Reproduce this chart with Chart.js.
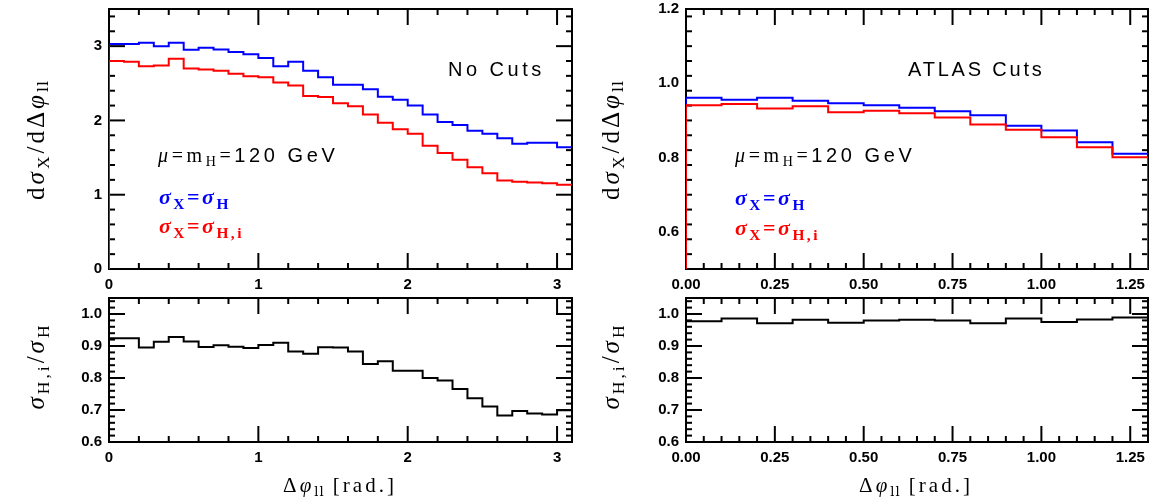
<!DOCTYPE html>
<html><head><meta charset="utf-8">
<script src="https://cdn.jsdelivr.net/npm/chart.js@4/dist/chart.umd.min.js"></script>
<style>
html,body{margin:0;padding:0;background:#fff;}
body{width:1150px;height:504px;position:relative;overflow:hidden;}
canvas{position:absolute;}
.lbl{position:absolute;white-space:nowrap;line-height:1;color:#000;}
.sans{font-family:"Liberation Sans",Arial,sans-serif;}
.serif{font-family:"Liberation Serif","DejaVu Serif",serif;}
.lbl sub{font-size:70%;vertical-align:-0.32em;line-height:0;}
.lbl sub.ll{font-family:"DejaVu Serif",serif;font-size:62%;letter-spacing:1px;}
.rot{transform:translate(-50%,-50%) rotate(-90deg);transform-origin:center;}
.ctr{transform:translateX(-50%);}
</style></head><body>
<canvas id="tl" width="590" height="292" style="left:0;top:0"></canvas>
<canvas id="bl" width="590" height="212" style="left:0;top:292px"></canvas>
<canvas id="tr" width="560" height="292" style="left:590px;top:0"></canvas>
<canvas id="br" width="560" height="212" style="left:590px;top:292px"></canvas>

<!-- axis titles -->
<div class="lbl serif rot" style="left:35px;top:140px;font-size:25px;letter-spacing:3px">d<i>σ</i><sub>X</sub>/dΔ<i>φ</i><sub class="ll">ll</sub></div>
<div class="lbl serif rot" style="left:35px;top:366px;font-size:25px;letter-spacing:3px"><i>σ</i><sub>H,i</sub>/<i>σ</i><sub>H</sub></div>
<div class="lbl serif rot" style="left:610px;top:140px;font-size:25px;letter-spacing:3px">d<i>σ</i><sub>X</sub>/dΔ<i>φ</i><sub class="ll">ll</sub></div>
<div class="lbl serif rot" style="left:610px;top:366px;font-size:25px;letter-spacing:3px"><i>σ</i><sub>H,i</sub>/<i>σ</i><sub>H</sub></div>
<div class="lbl serif ctr" style="left:340px;top:475px;font-size:21px;letter-spacing:3px">Δ<i>φ</i><sub class="ll">ll</sub> [rad.]</div>
<div class="lbl serif ctr" style="left:916px;top:475px;font-size:21px;letter-spacing:3px">Δ<i>φ</i><sub class="ll">ll</sub> [rad.]</div>

<!-- annotations -->
<div class="lbl sans" style="left:448px;top:59px;font-size:20px;letter-spacing:3.5px">No Cuts</div>
<div class="lbl sans" style="left:908px;top:59px;font-size:20px;letter-spacing:2.8px">ATLAS Cuts</div>
<div class="lbl sans" style="left:158px;top:145px;font-size:20px;letter-spacing:3.6px"><span class="serif"><i>μ</i>=m<sub>H</sub>=</span>120 GeV</div>
<div class="lbl sans" style="left:735px;top:145px;font-size:20px;letter-spacing:3.6px"><span class="serif"><i>μ</i>=m<sub>H</sub>=</span>120 GeV</div>
<div class="lbl serif" style="left:159px;top:186px;font-size:22px;letter-spacing:2.5px;color:#0000ff;font-weight:bold"><i>σ</i><sub>X</sub>=<i>σ</i><sub>H</sub></div>
<div class="lbl serif" style="left:159px;top:215px;font-size:22px;letter-spacing:2.5px;color:#ff0000;font-weight:bold"><i>σ</i><sub>X</sub>=<i>σ</i><sub>H,i</sub></div>
<div class="lbl serif" style="left:735px;top:187px;font-size:22px;letter-spacing:2.5px;color:#0000ff;font-weight:bold"><i>σ</i><sub>X</sub>=<i>σ</i><sub>H</sub></div>
<div class="lbl serif" style="left:735px;top:217px;font-size:22px;letter-spacing:2.5px;color:#ff0000;font-weight:bold"><i>σ</i><sub>X</sub>=<i>σ</i><sub>H,i</sub></div>

<script>
// ---------- data: No Cuts (bins of 0.1 rad) ----------
const noCutsEdges = [0.0,0.1,0.2,0.3,0.4,0.5,0.6,0.7,0.8,0.9,1.0,1.1,1.2,1.3,1.4,1.5,1.6,1.7,1.8,1.9,2.0,2.1,2.2,2.3,2.4,2.5,2.6,2.7,2.8,2.9,3.0,3.1];
const noCutsSigmaH  = [3.03,3.03,3.045,3.00,3.045,2.95,2.98,2.955,2.92,2.89,2.84,2.73,2.79,2.67,2.58,2.48,2.48,2.42,2.32,2.28,2.20,2.08,1.98,1.94,1.86,1.82,1.76,1.685,1.70,1.70,1.64];
const noCutsSigmaHi = [2.80,2.79,2.73,2.74,2.83,2.70,2.685,2.67,2.63,2.595,2.58,2.51,2.47,2.33,2.315,2.23,2.19,2.08,1.97,1.88,1.82,1.66,1.56,1.47,1.37,1.29,1.19,1.175,1.166,1.153,1.135];
const noCutsRatio   = [0.924,0.924,0.895,0.913,0.928,0.914,0.897,0.902,0.898,0.894,0.903,0.910,0.883,0.876,0.896,0.895,0.883,0.844,0.852,0.823,0.823,0.800,0.792,0.766,0.737,0.711,0.683,0.697,0.689,0.686,0.699];
// ---------- data: ATLAS Cuts ----------
const atlasEdges = [0.0,0.1,0.2,0.3,0.4,0.5,0.6,0.7,0.8,0.9,1.0,1.1,1.2,1.3];
const atlasSigmaH  = [0.961,0.956,0.961,0.953,0.946,0.941,0.934,0.925,0.914,0.886,0.873,0.841,0.810];
const atlasSigmaHi = [0.941,0.944,0.932,0.938,0.922,0.926,0.919,0.908,0.889,0.875,0.855,0.828,0.801];
const atlasRatio   = [0.977,0.986,0.971,0.982,0.973,0.980,0.982,0.980,0.971,0.986,0.975,0.983,0.989];
// ---------- tick labels ----------
const noCutsXTicks = [0,1,2,3];
const noCutsYTicks = [0,1,2,3];
const atlasXTicks = [0,0.25,0.5,0.75,1.0,1.25];
const atlasYTicks = [0.6,0.8,1.0,1.2];
const ratioYTicks = [0.6,0.7,0.8,0.9,1.0];

const BLUE = '#0000ff', RED = '#ff0000', BLACK = '#000000';
const TICK_FONT = {family: "'Liberation Sans', Arial, sans-serif", size: 15, weight: 'bold'};

function histPoints(edges, vals, base, dropEnd) {
  const pts = [{x: edges[0], y: base}];
  for (let i = 0; i < vals.length; i++) {
    pts.push({x: edges[i], y: vals[i]});
    pts.push({x: edges[i + 1], y: vals[i]});
  }
  if (dropEnd) pts.push({x: edges[vals.length], y: base});
  return pts;
}

function seq(min, max, step) {
  const out = [];
  const n = Math.floor((max - min) / step + 1e-6);
  for (let i = 0; i <= n; i++) out.push(Math.round((min + i * step) * 1e6) / 1e6);
  return out;
}

function panel(id, p) {
  const cv = document.getElementById(id);
  const W = cv.width, H = cv.height;
  const frame = {
    id: 'frame_' + id,
    beforeDatasetsDraw(chart) {
      const {ctx, chartArea: a, scales: {x, y}} = chart;
      ctx.save();
      ctx.strokeStyle = '#000';
      ctx.lineWidth = 2;
      ctx.lineCap = 'butt';
      ctx.strokeRect(a.left, a.top, a.right - a.left, a.bottom - a.top);
      const seg = (x1, y1, x2, y2) => { ctx.beginPath(); ctx.moveTo(x1, y1); ctx.lineTo(x2, y2); ctx.stroke(); };
      const isMajor = (v, list) => list.some(m => Math.abs(m - v) < 1e-6);
      seq(p.xMin, p.xMax, p.xMinor).forEach(v => {
        const len = isMajor(v, p.xTicks) ? 16 : 6;
        const px = x.getPixelForValue(v);
        seg(px, a.bottom, px, a.bottom - len);
        seg(px, a.top, px, a.top + len);
      });
      seq(p.yMin, p.yMax, p.yMinor).forEach(v => {
        const len = isMajor(v, p.yTicks) ? 16 : 6;
        const py = y.getPixelForValue(v);
        seg(a.left, py, a.left + len, py);
        seg(a.right, py, a.right - len, py);
      });
      ctx.restore();
    }
  };
  return new Chart(cv, {
    type: 'line',
    data: {datasets: p.datasets.map(d => ({
      data: d.data, borderColor: d.color, backgroundColor: d.color, borderWidth: 2,
      pointRadius: 0, fill: false, tension: 0, order: d.order, borderJoinStyle: 'miter'
    }))},
    options: {
      responsive: false, animation: false, events: [],
      layout: {padding: {left: 0, top: p.area.top, right: W - p.area.right, bottom: 0}},
      plugins: {legend: {display: false}, tooltip: {enabled: false}},
      scales: {
        x: {
          type: 'linear', min: p.xMin, max: p.xMax,
          grid: {display: false, drawTicks: false}, border: {display: false},
          afterBuildTicks: s => { s.ticks = p.xTicks.map(v => ({value: v})); },
          afterFit: s => { s.height = H - p.area.bottom; s.paddingLeft = 0; s.paddingRight = 0; },
          ticks: {font: TICK_FONT, color: '#000', padding: 7, maxRotation: 0, autoSkip: false,
                  callback: v => p.xFmt(v)}
        },
        y: {
          type: 'linear', min: p.yMin, max: p.yMax,
          grid: {display: false, drawTicks: false}, border: {display: false},
          afterBuildTicks: s => { s.ticks = p.yTicks.map(v => ({value: v})); },
          afterFit: s => { s.width = p.area.left; s.paddingTop = 0; s.paddingBottom = 0; },
          ticks: {font: TICK_FONT, color: '#000', padding: 7, autoSkip: false,
                  callback: v => p.yFmt(v)}
        }
      }
    },
    plugins: [frame]
  });
}

// top-left: No Cuts
panel('tl', {
  area: {left: 109, top: 9, right: 572, bottom: 269},
  xMin: 0, xMax: 3.1, yMin: 0, yMax: 3.5, xMinor: 0.2, yMinor: 0.2,
  xTicks: noCutsXTicks, yTicks: noCutsYTicks,
  xFmt: v => String(v), yFmt: v => String(v),
  datasets: [
    {data: histPoints(noCutsEdges, noCutsSigmaHi, 0, false), color: RED, order: 1},
    {data: histPoints(noCutsEdges, noCutsSigmaH, 0, false), color: BLUE, order: 2}
  ]
});
// bottom-left: ratio No Cuts
panel('bl', {
  area: {left: 109, top: 6, right: 572, bottom: 150},
  xMin: 0, xMax: 3.1, yMin: 0.6, yMax: 1.05, xMinor: 0.2, yMinor: 0.02,
  xTicks: noCutsXTicks, yTicks: ratioYTicks,
  xFmt: v => String(v), yFmt: v => v.toFixed(1),
  datasets: [
    {data: histPoints(noCutsEdges, noCutsRatio, noCutsRatio[0], false), color: BLACK, order: 1}
  ]
});
// top-right: ATLAS Cuts
panel('tr', {
  area: {left: 96, top: 9, right: 558, bottom: 269},
  xMin: 0, xMax: 1.3, yMin: 0.5, yMax: 1.2, xMinor: 0.05, yMinor: 0.04,
  xTicks: atlasXTicks, yTicks: atlasYTicks,
  xFmt: v => v.toFixed(2), yFmt: v => v.toFixed(1),
  datasets: [
    {data: histPoints(atlasEdges, atlasSigmaHi, 0.5, true), color: RED, order: 1},
    {data: histPoints(atlasEdges, atlasSigmaH, 0.5, true), color: BLUE, order: 2}
  ]
});
// bottom-right: ratio ATLAS Cuts
panel('br', {
  area: {left: 96, top: 6, right: 558, bottom: 150},
  xMin: 0, xMax: 1.3, yMin: 0.6, yMax: 1.05, xMinor: 0.05, yMinor: 0.02,
  xTicks: atlasXTicks, yTicks: ratioYTicks,
  xFmt: v => v.toFixed(2), yFmt: v => v.toFixed(1),
  datasets: [
    {data: histPoints(atlasEdges, atlasRatio, atlasRatio[0], false), color: BLACK, order: 1}
  ]
});
</script>
</body></html>
